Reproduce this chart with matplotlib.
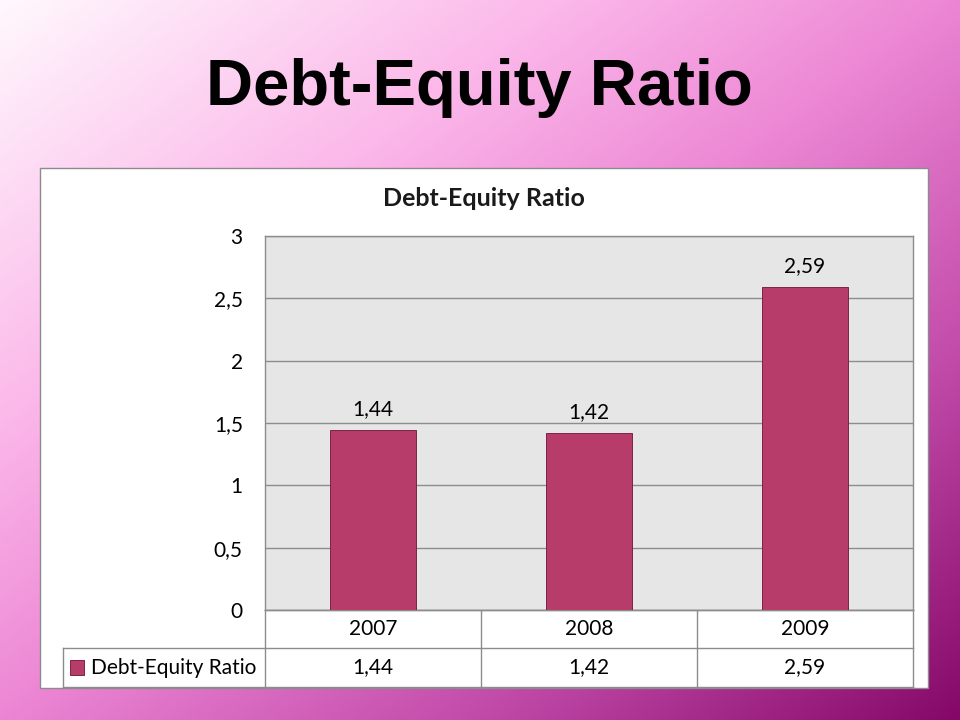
import matplotlib
matplotlib.use("Agg")
import matplotlib.pyplot as plt
import numpy as np
from matplotlib.colors import LinearSegmentedColormap
from matplotlib.patches import Rectangle
from matplotlib.lines import Line2D

years = ['2007', '2008', '2009']
ratio = [1.44, 1.42, 2.59]
ratio_labels = ['1,44', '1,42', '2,59']
series_name = 'Debt-Equity Ratio'
yticks = [0, 0.5, 1, 1.5, 2, 2.5, 3]
ytick_labels = ['0', '0,5', '1', '1,5', '2', '2,5', '3']

W, H = 960, 720
fig = plt.figure(figsize=(9.6, 7.2), dpi=100)

# slide background gradient
bg = fig.add_axes([0, 0, 1, 1], zorder=-10)
xx, yy = np.meshgrid(np.linspace(0, 1, 400), np.linspace(0, 1, 300))
t = (xx + yy) / 2
cmap = LinearSegmentedColormap.from_list('slide', [
    (0.0, '#fff8fd'), (0.3, '#fbb6e9'), (0.5, '#ec86d4'),
    (0.75, '#c14aa9'), (1.0, '#850868')])
bg.imshow(t, cmap=cmap, aspect='auto', extent=[0, 1, 1, 0], origin='upper')
bg.set_xlim(0, 1)
bg.set_ylim(1, 0)
bg.axis('off')

fig.text(479 / W, 1 - 88 / H, 'Debt-Equity Ratio', ha='center', va='center',
         fontsize=47, fontweight='bold', family='Liberation Sans', color='black')

# chart box
fig.patches.append(Rectangle((40 / W, 1 - 688 / H), 888 / W, 520 / H,
                             transform=fig.transFigure, facecolor='white',
                             edgecolor='#8c8c8c', linewidth=1, zorder=-5))
fig.text(484 / W, 1 - 198 / H, series_name, ha='center', va='center',
         fontsize=18, fontweight='bold', family='Lato', color='#1a1a1a')

fs = 15
ax = fig.add_axes([265 / W, 1 - 610 / H, 648 / W, 374 / H])
ax.set_facecolor('#e6e6e6')
x = np.arange(len(years))
bar_color = '#b83c6a'
ax.bar(x, ratio, width=0.4, color=bar_color, edgecolor='#7a2446', linewidth=0.7, zorder=3)
for xi, v, lab in zip(x, ratio, ratio_labels):
    ax.text(xi, v + 0.09, lab, ha='center', va='bottom', fontsize=fs, family='Lato')
ax.set_xlim(-0.5, 2.5)
ax.set_ylim(0, 3)
ax.set_yticks(yticks)
ax.set_yticklabels(ytick_labels, fontsize=fs, family='Lato')
ax.tick_params(axis='y', length=0, pad=16)
ax.set_xticks([])
ax.yaxis.grid(True, color='#8c8c8c', linewidth=1)
ax.set_axisbelow(True)
for s in ax.spines.values():
    s.set_color('#8c8c8c')
    s.set_linewidth(1)

# data table below the plot
row1 = -38 / 374
row2 = -77 / 374
left = (63 - 265) / 648 * 3 - 0.5
tr = ax.get_xaxis_transform()
lc = '#8c8c8c'
for yv in [0, row1, row2]:
    x0 = -0.5 if yv == 0 else left
    ax.add_line(Line2D([x0, 2.5], [yv, yv], transform=tr, color=lc, lw=1, clip_on=False))
for xv in [-0.5, 0.5, 1.5, 2.5]:
    ax.add_line(Line2D([xv, xv], [0, row2], transform=tr, color=lc, lw=1, clip_on=False))
ax.add_line(Line2D([left, left], [row1, row2], transform=tr, color=lc, lw=1, clip_on=False))
for xi, yr, lab in zip(x, years, ratio_labels):
    ax.text(xi, row1 / 2, yr, transform=tr, ha='center', va='center', fontsize=fs, family='Lato')
    ax.text(xi, (row1 + row2) / 2, lab, transform=tr, ha='center', va='center', fontsize=fs, family='Lato')
ax.add_patch(Rectangle((left + 0.032, (row1 + row2) / 2 - 0.02), 0.065, 0.04, transform=tr,
                       facecolor=bar_color, edgecolor='#7a2446', lw=0.7, clip_on=False))
ax.text(left + 0.13, (row1 + row2) / 2, series_name, transform=tr, ha='left', va='center',
        fontsize=fs, family='Lato')

fig.savefig('out.png', dpi=100)
